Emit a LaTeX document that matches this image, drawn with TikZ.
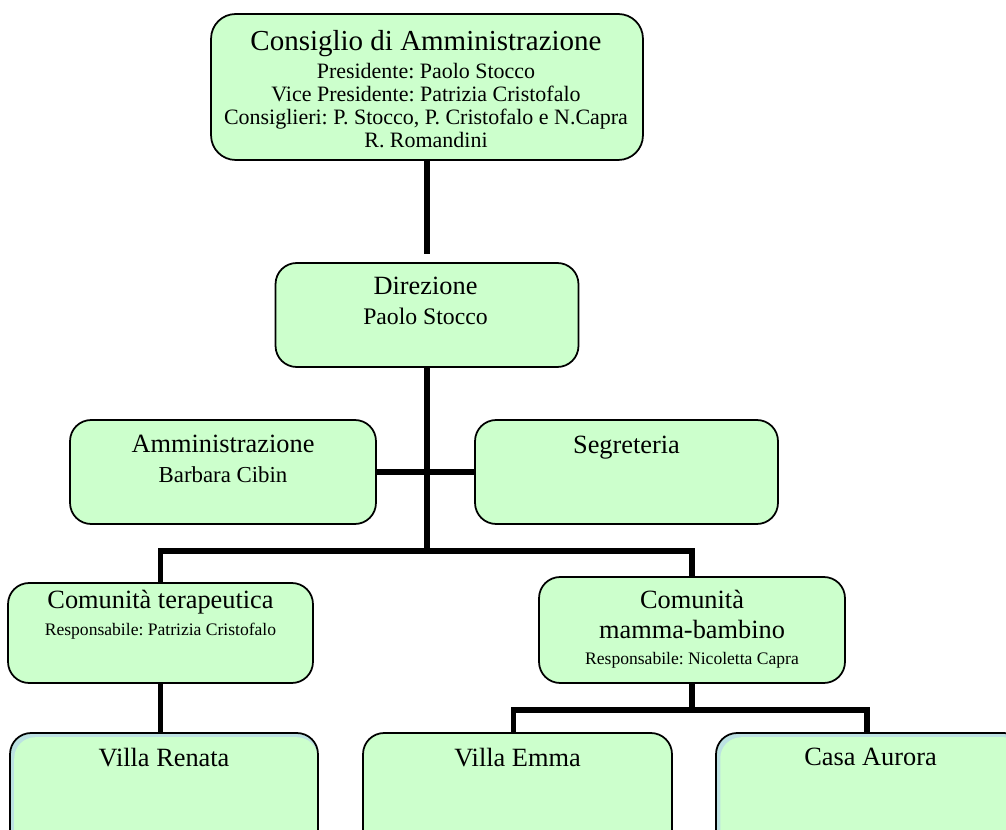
\documentclass[tikz,border=0pt]{standalone}
\usepackage{fontspec}
\setmainfont{Liberation Serif}
\frenchspacing
\definecolor{unitgreen}{HTML}{CCFFCC}
\definecolor{stripblue}{HTML}{BCE2E2}
\tikzstyle{unit}=[draw, line width=1pt, rounded corners=12pt, fill=unitgreen, inner sep=0pt]
\tikzstyle{striped}=[fill=stripblue, path picture={
    \fill[unitgreen, rounded corners=12pt]
      ([xshift=2.4pt, yshift=-2.4pt]path picture bounding box.north west)
      rectangle (path picture bounding box.south east);}]
\tikzstyle{unit text}=[align=center, inner sep=0pt, anchor=north, font=\fontsize{15}{17}\selectfont]
\tikzstyle{link}=[line width=3.4pt]

\begin{document}
\begin{tikzpicture}[x=0.02cm, y=-0.02cm]
          \useasboundingbox (0, 0) rectangle (1006, 830);
          \clip (0, 0) rectangle (1006, 830);

          % boxes
          \node[unit, rounded corners=14pt, minimum width=8.64cm, minimum height=2.92cm] (board) at (427, 87) {};
          \node[unit, minimum width=6.06cm, minimum height=2.08cm] (direction) at (427, 315) {};
          \node[unit, minimum width=6.12cm, minimum height=2.08cm] (admin) at (223, 472) {};
          \node[unit, minimum width=6.06cm, minimum height=2.08cm] (office) at (626.5, 472) {};
          \node[unit, minimum width=6.1cm, minimum height=2cm] (therapy) at (160.5, 633) {};
          \node[unit, minimum width=6.12cm, minimum height=2.12cm] (mother) at (692, 630) {};
          \node[unit, striped, minimum width=6.16cm, minimum height=2.4cm] (renata) at (164, 793) {};
          \node[unit, minimum width=6.18cm, minimum height=2.4cm] (emma) at (517.5, 793) {};
          \node[unit, striped, minimum width=6.18cm, minimum height=2.4cm] (aurora) at (870.5, 793) {};

          % texts
          \node[unit text, font=\fontsize{12.5}{13}\selectfont] (board text) at (426, 30)
            {{\fontsize{16.5}{19}\selectfont Consiglio di Amministrazione}\\[3pt]
             Presidente: Paolo Stocco\\
             Vice Presidente: Patrizia Cristofalo\\
             Consiglieri: P. Stocco, P. Cristofalo e N.Capra\\
             R. Romandini};
          \node[unit text] (direction text) at (425.5, 277)
            {Direzione\\ {\fontsize{13.5}{15}\selectfont Paolo Stocco}};
          \node[unit text] (admin text) at (223, 435)
            {Amministrazione\\ {\fontsize{13}{15}\selectfont Barbara Cibin}};
          \node[unit text] (office text) at (626.5, 436) {Segreteria};
          \node[unit text] (therapy text) at (160.5, 590)
            {Comunità terapeutica\\[-2pt] {\fontsize{10}{12}\selectfont Responsabile: Patrizia Cristofalo}};
          \node[unit text] (mother text) at (692, 590)
            {Comunità\\ mamma-bambino\\[-2pt] {\fontsize{10}{12}\selectfont Responsabile: Nicoletta Capra}};
          \node[unit text] (renata text) at (164, 748) {Villa Renata};
          \node[unit text] (emma text) at (517.5, 748) {Villa Emma};
          \node[unit text] (aurora text) at (870.5, 748) {Casa Aurora};

          % connectors
          \coordinate (board end) at (427, 254);
          \coordinate (bus) at (427, 551);
          \coordinate (house bus) at (692, 710);
          \draw[link] (board.south) -- (board end);
          \draw[link] (direction.south) -- (bus);
          \draw[link] (admin.east) -- (office.west);
          \draw[link] (therapy.north) |- (bus) -| (mother.north);
          \draw[link] (therapy.south) -- (renata.north -| therapy.south);
          \draw[link] (mother.south) -- (house bus);
          \draw[link] ([xshift=-4*0.02cm]emma.north) |- (house bus) -| ([xshift=-4*0.02cm]aurora.north);
        \end{tikzpicture}
\end{document}
